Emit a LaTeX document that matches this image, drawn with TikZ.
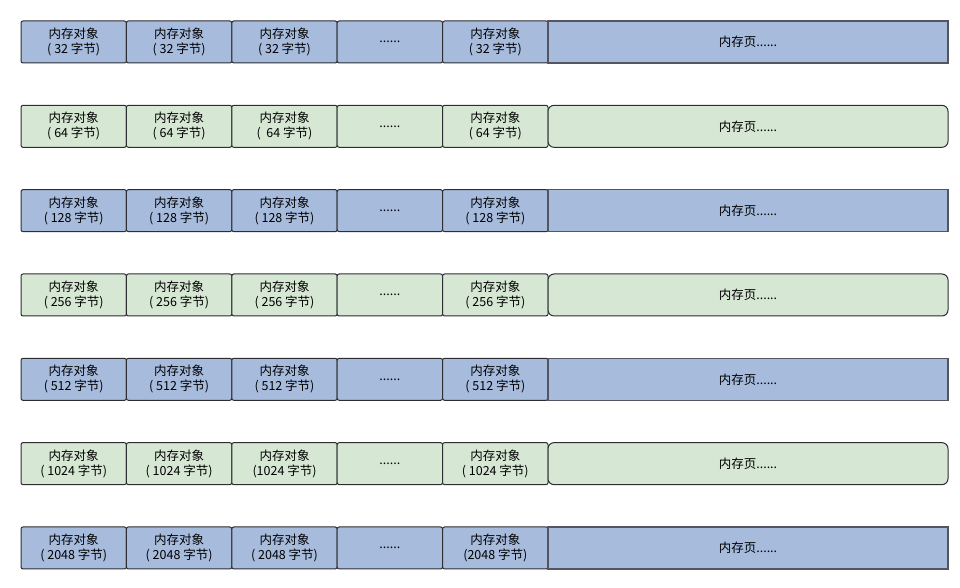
\documentclass[tikz,border=0pt]{standalone}
\usepackage{fontspec}
\setmainfont{Noto Sans CJK SC}
\usepackage{tikz}
\usetikzlibrary{positioning}
\definecolor{SlabBlue}{RGB}{167, 187, 221}
\definecolor{SlabGreen}{RGB}{214, 232, 212}
\definecolor{SlabEdge}{RGB}{45, 45, 50}
\definecolor{PageEdge}{RGB}{85, 85, 95}

\tikzset{
  obj/.style={draw=SlabEdge, line width=1pt, rounded corners=2pt, fill=#1,
    minimum width=105.4pt, minimum height=42pt, inner sep=0pt, outer sep=0pt,
    align=center, font=\fontsize{12.5}{15}\selectfont},
  pageBlue/.style={draw=PageEdge, line width=1.6pt, fill=SlabBlue,
    minimum width=400pt, minimum height=42pt, inner sep=0pt, outer sep=0pt,
    font=\fontsize{12.5}{15}\selectfont},
  pageGreen/.style={draw=SlabEdge, line width=1pt, rounded corners=6pt, fill=SlabGreen,
    minimum width=400pt, minimum height=42pt, inner sep=0pt, outer sep=0pt,
    font=\fontsize{12.5}{15}\selectfont},
}

\begin{document}
\begin{tikzpicture}[x=1pt, y=1pt]
  \useasboundingbox (0,0) rectangle (960,-588);

  % one row per object size
  \foreach \sz/\kind/\txtc/\txte [count=\r] in {
      32/Blue/{( 32 字节)}/{( 32 字节)},
      64/Green/{(\ \ 64 字节)}/{( 64 字节)},
      128/Blue/{( 128 字节)}/{( 128 字节)},
      256/Green/{( 256 字节)}/{( 256 字节)},
      512/Blue/{( 512 字节)}/{( 512 字节)},
      1024/Green/{(1024 字节)}/{( 1024 字节)},
      2048/Blue/{( 2048 字节)}/{(2048 字节)}} {
    \coordinate (row\r) at (21, {-21-84.33*(\r-1)});
    \node[obj=Slab\kind, anchor=north west] (c\r-1) at (row\r) {内存对象\\( \sz\ 字节)};
    \node[obj=Slab\kind, right=0pt of c\r-1] (c\r-2) {内存对象\\( \sz\ 字节)};
    \node[obj=Slab\kind, right=0pt of c\r-2] (c\r-3) {内存对象\\\txtc};
    \node[obj=Slab\kind, right=0pt of c\r-3] (c\r-4) {......};
    \node[obj=Slab\kind, right=0pt of c\r-4] (c\r-5) {内存对象\\\txte};
    \node[page\kind, right=0pt of c\r-5] (page\r) {内存页......};
  }
\end{tikzpicture}
\end{document}
